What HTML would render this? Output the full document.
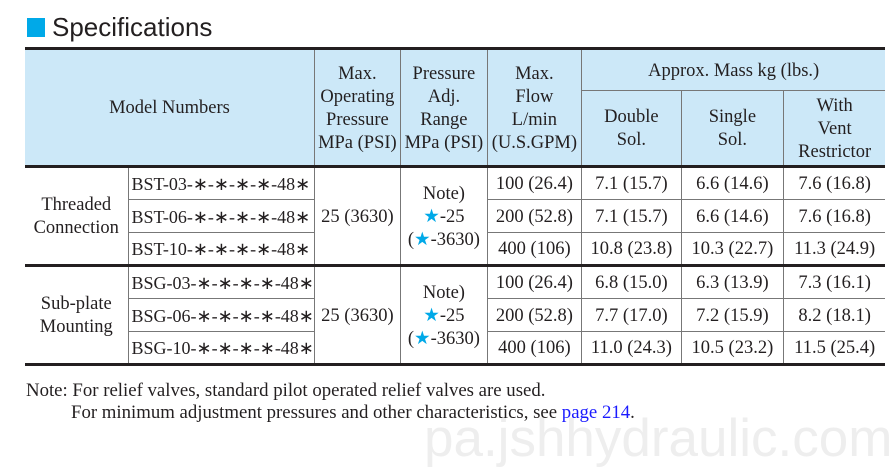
<!DOCTYPE html>
<html><head><meta charset="utf-8"><style>
body{margin:0;width:894px;height:476px;background:#fff;position:relative;overflow:hidden;font-family:"Liberation Serif",serif;color:#231f20}
.sq{position:absolute;left:27px;top:18px;width:18px;height:19px;background:#00a9e8}
.title{position:absolute;left:52px;top:12px;font:26px "Liberation Sans",sans-serif;color:#231f20}
table{position:absolute;left:25px;top:47px;border-collapse:collapse;table-layout:fixed;font-size:18.5px}
td{border:1px solid #777;text-align:center;padding:2px 0 0 0;line-height:23px;white-space:nowrap;overflow:hidden}
tr.h td{background:#cce8f8}
.tt{border-top:3px solid #231f20}
.bb{border-bottom:3px solid #231f20}
td.l{border-left:none}td.r{border-right:none}
.m{text-align:left;padding-left:3px;font-size:18px}
.st{color:#00a9e8}
.note{position:absolute;left:26px;top:380px;font-size:18.8px;line-height:22px}
.wm{position:absolute;left:424px;top:408px;font:53px "Liberation Sans",sans-serif;color:#eeeeee}
</style></head><body>
<div class="wm">pa.jshhydraulic.com</div>
<div class="sq"></div><div class="title">Specifications</div>
<table>
<colgroup><col style="width:103px"><col style="width:185px"><col style="width:86px"><col style="width:87px"><col style="width:94px"><col style="width:100px"><col style="width:102px"><col style="width:102px"></colgroup>
<tr class="h" style="height:42px"><td colspan="2" rowspan="2" class="tt l bb">Model Numbers</td><td rowspan="2" class="tt bb">Max.<br>Operating<br>Pressure<br>MPa (PSI)</td><td rowspan="2" class="tt bb">Pressure<br>Adj.<br>Range<br>MPa (PSI)</td><td rowspan="2" class="tt bb">Max.<br>Flow<br>L/min<br>(U.S.GPM)</td><td colspan="3" class="tt r">Approx. Mass kg (lbs.)</td></tr>
<tr class="h" style="height:76px"><td class="bb">Double<br>Sol.</td><td class="bb">Single<br>Sol.</td><td class="bb r">With<br>Vent<br>Restrictor</td></tr>
<tr style="height:33px"><td rowspan="3" class="l bb">Threaded<br>Connection</td><td class="m">BST-03-∗-∗-∗-∗-48∗</td><td rowspan="3" class="bb">25 (3630)</td><td rowspan="3" class="bb">Note)<br><span class="st">★</span>-25<br>(<span class="st">★</span>-3630)</td><td>100 (26.4)</td><td>7.1 (15.7)</td><td>6.6 (14.6)</td><td class="r">7.6 (16.8)</td></tr>
<tr style="height:33px"><td class="m">BST-06-∗-∗-∗-∗-48∗</td><td>200 (52.8)</td><td>7.1 (15.7)</td><td>6.6 (14.6)</td><td class="r">7.6 (16.8)</td></tr>
<tr style="height:33px"><td class="m bb">BST-10-∗-∗-∗-∗-48∗</td><td class="bb">400 (106)</td><td class="bb">10.8 (23.8)</td><td class="bb">10.3 (22.7)</td><td class="bb r">11.3 (24.9)</td></tr>
<tr style="height:33px"><td rowspan="3" class="l bb">Sub-plate<br>Mounting</td><td class="m">BSG-03-∗-∗-∗-∗-48∗</td><td rowspan="3" class="bb">25 (3630)</td><td rowspan="3" class="bb">Note)<br><span class="st">★</span>-25<br>(<span class="st">★</span>-3630)</td><td>100 (26.4)</td><td>6.8 (15.0)</td><td>6.3 (13.9)</td><td class="r">7.3 (16.1)</td></tr>
<tr style="height:33px"><td class="m">BSG-06-∗-∗-∗-∗-48∗</td><td>200 (52.8)</td><td>7.7 (17.0)</td><td>7.2 (15.9)</td><td class="r">8.2 (18.1)</td></tr>
<tr style="height:33px"><td class="m bb">BSG-10-∗-∗-∗-∗-48∗</td><td class="bb">400 (106)</td><td class="bb">11.0 (24.3)</td><td class="bb">10.5 (23.2)</td><td class="bb r">11.5 (25.4)</td></tr>
</table>
<div class="note">Note: For relief valves, standard pilot operated relief valves are used.<br><span style="padding-left:45px">For minimum adjustment pressures and other characteristics, see <span style="color:#1a1aff">page 214</span>.</span></div>
</body></html>
